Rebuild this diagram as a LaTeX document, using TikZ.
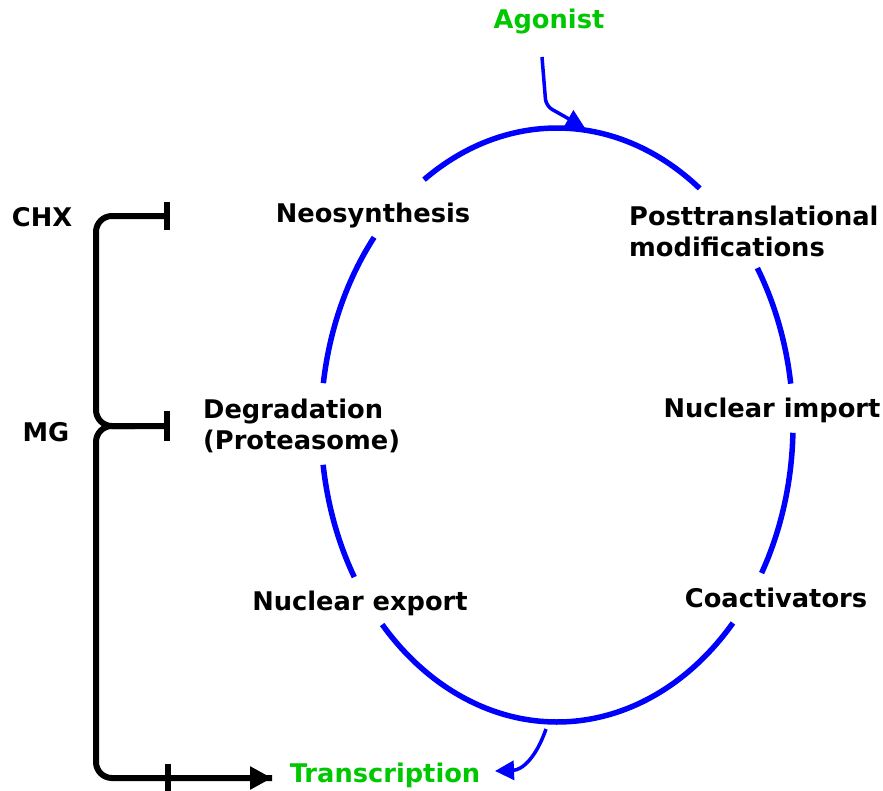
\documentclass[tikz,border=0pt]{standalone}
\usepackage{fontspec}
\setmainfont{DejaVu Sans}
\usetikzlibrary{arrows.meta}
\definecolor{agreen}{RGB}{0,200,0}
\definecolor{cblue}{RGB}{0,0,255}
\begin{document}
\begin{tikzpicture}[x=1pt,y=-1pt,
  lbl/.style={font=\fontsize{25.7}{31}\selectfont\bfseries, inner sep=0pt, align=left},
  glbl/.style={lbl, text=agreen},
  ring/.style={draw=cblue, line width=5.5pt},
  barr/.style={draw=black, line width=6pt},
  inh/.style={draw=black, line width=6pt},
  blarrow/.style={draw=cblue, line width=3.5pt, -{Triangle[length=19pt,width=19pt]}}
]
\useasboundingbox (0,0) rectangle (883,790);
% centre of the cycle
\coordinate (c) at (557,425);
% ring segments (parametric angles)
\draw[ring] (c) ++(-52.8:236 and 297) arc[start angle=-52.8, end angle=-124.3, x radius=236, y radius=297];
\draw[ring] (c) ++(-140.8:236 and 297) arc[start angle=-140.8, end angle=-171.9, x radius=236, y radius=297];
\draw[ring] (c) ++(172.3:236 and 297) arc[start angle=172.3, end angle=149.2, x radius=236, y radius=297];
\draw[ring] (c) ++(137.8:236 and 297) arc[start angle=137.8, end angle=41.8, x radius=236, y radius=297];
\draw[ring] (c) ++(29.9:236 and 297) arc[start angle=29.9, end angle=1.5, x radius=236, y radius=297];
\draw[ring] (c) ++(-8:236 and 297) arc[start angle=-8, end angle=-31.9, x radius=236, y radius=297];

% labels
\node[glbl] (agonist) at (549,22) {Agonist};
\node[glbl] (transcription) at (385,775) {Transcription};
\node[lbl] (neo) at (373,216) {Neosynthesis};
\node[lbl, anchor=west] (ptm) at (629,231) {Posttranslational\\modifications};
\node[lbl, anchor=west] (deg) at (203,426) {Degradation\\(Proteasome)};
\node[lbl] (nimp) at (772,410) {Nuclear import};
\node[lbl] (nexp) at (360,603) {Nuclear export};
\node[lbl] (coact) at (776,598) {Coactivators};
\node[lbl] (chx) at (42,217) {CHX};
\node[lbl] (mg) at (46,432) {MG};

% agonist arrow
\coordinate (ag0) at (542,57);
\coordinate (ag1) at (546,106);
\coordinate (ag2) at (585,128);
\draw[blarrow, rounded corners=7pt] (ag0) -- (ag1) -- (ag2);
% transcription arrow
\coordinate (tr0) at (546,729);
\coordinate (tr1) at (495,771);
\draw[blarrow] (tr0) .. controls (536,758) and (522,770) .. (tr1);

% bracket
\coordinate (b1) at (167,216);
\coordinate (b2) at (167,426);
\coordinate (b3) at (168,778);
\coordinate (tip) at (272,778);
\draw[barr, rounded corners=16pt] (b1) -- (96,216) -- (96,426) -- (b2);
\draw[barr, rounded corners=16pt] (135,426) -- (96,426) -- (96,778) -- (tip);
\draw[barr, -{Triangle[length=22pt,width=22pt]}] (b3) -- (tip);
% inhibition bars
\draw[inh] ([yshift=-14pt]b1) -- ([yshift=14pt]b1);
\draw[inh] ([yshift=-15pt]b2) -- ([yshift=15pt]b2);
\draw[inh] ([yshift=-14pt]b3) -- ([yshift=14pt]b3);
\end{tikzpicture}
\end{document}
